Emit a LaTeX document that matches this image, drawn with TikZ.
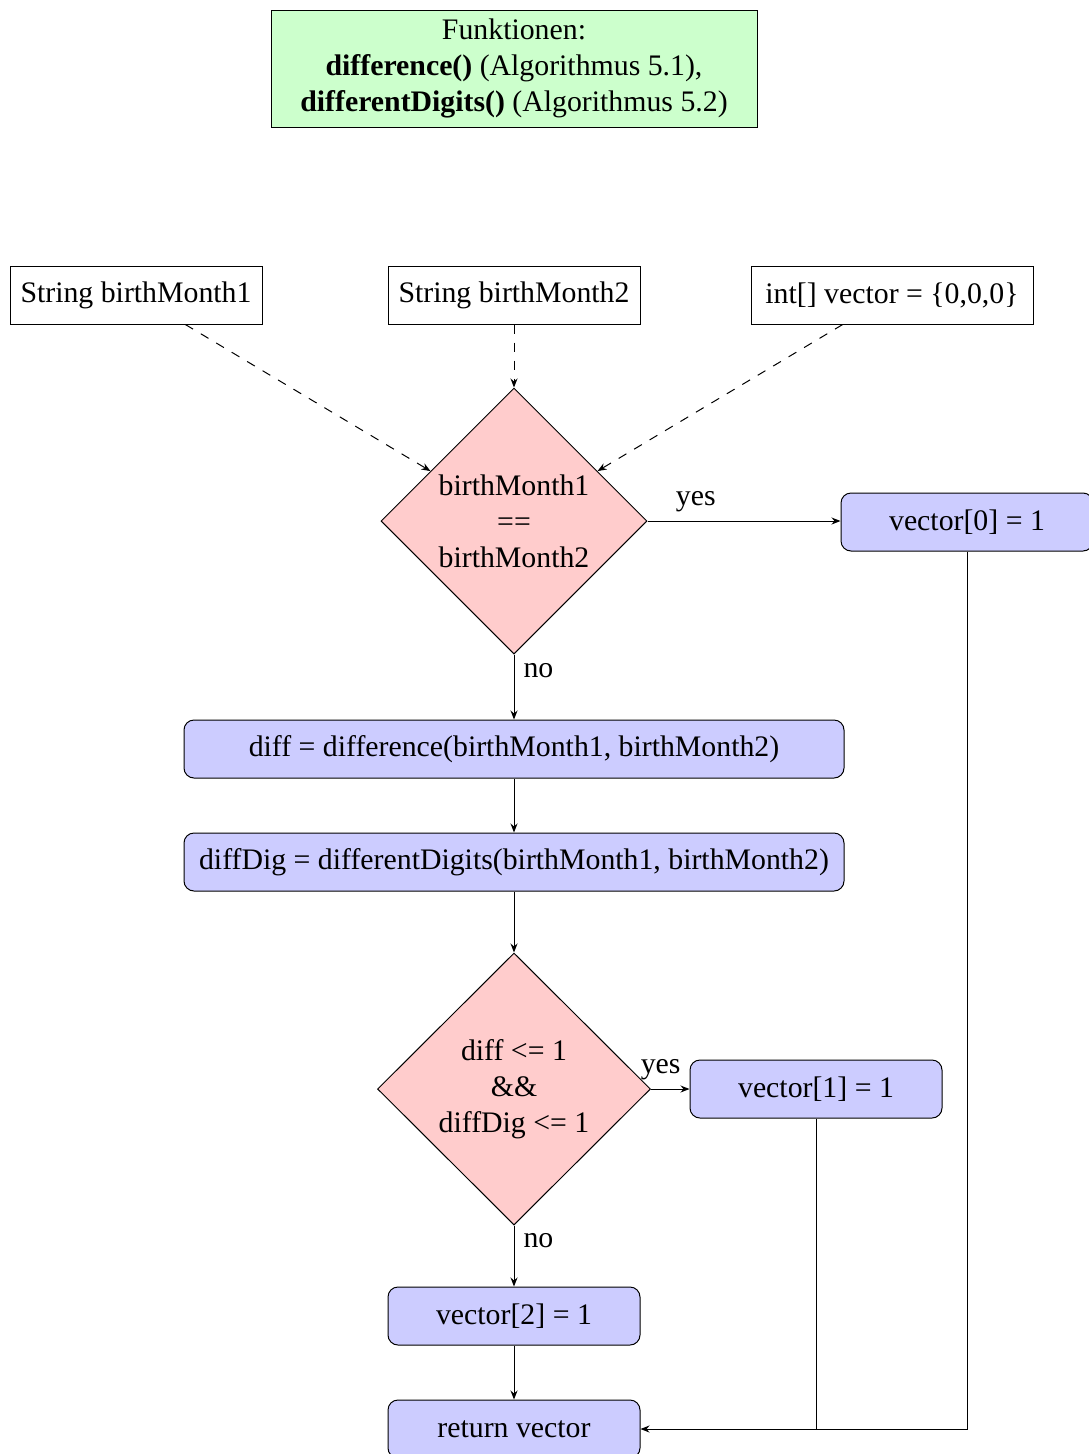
\documentclass[tikz,border=0pt]{standalone}
\usepackage{fontspec}
\setmainfont{Liberation Serif}
\usetikzlibrary{shapes.geometric,arrows.meta}
\begin{document}
\begin{tikzpicture}[x=1pt,y=-1pt,
  every node/.style={font=\fontsize{29.8}{35.8}\selectfont},
  base/.style={draw, line width=1pt, minimum height=58pt, inner sep=4pt},
  inbox/.style={base, minimum width=252pt},
  proc/.style={base, fill=blue!20, rounded corners=10pt, minimum width=252pt},
  dec/.style={draw, line width=1pt, diamond, fill=red!20, inner sep=0pt, align=center},
  arr/.style={line width=1pt, -{Stealth[length=9pt,width=7pt]}},
  darr/.style={arr, dash pattern=on 9pt off 9pt},
  lbl/.style={inner sep=9pt}
]
\useasboundingbox (0,0) rectangle (1089,1454);
\node[base, fill=green!20, minimum width=486pt, minimum height=117pt, align=center] (fn) at (514,68.5)
  {Funktionen:\\\textbf{difference()} (Algorithmus 5.1),\\\textbf{differentDigits()} (Algorithmus 5.2)};
\node[inbox] (s1) at (136,295) {String birthMonth1};
\node[inbox] (s2) at (514,295) {String birthMonth2};
\node[base, minimum width=282pt] (v) at (892,295) {int[] vector = \{0,0,0\}};
\node[dec, minimum width=266pt, minimum height=266pt] (d1) at (514,521) {birthMonth1\\==\\birthMonth2};
\node[proc] (v0) at (967,522) {vector[0] = 1};
\node[proc, minimum width=660pt] (diff) at (514,749) {diff = difference(birthMonth1, birthMonth2)};
\node[proc, minimum width=660pt] (dd) at (514,862) {diffDig = differentDigits(birthMonth1, birthMonth2)};
\node[dec, minimum width=273pt, minimum height=272pt] (d2) at (514,1089) {diff <= 1\\\&\&\\diffDig <= 1};
\node[proc] (v1) at (816,1089) {vector[1] = 1};
\node[proc] (v2) at (514,1316) {vector[2] = 1};
\node[proc] (ret) at (514,1429) {return vector};

\draw[darr] (s1) -- (d1);
\draw[darr] (s2) -- (d1);
\draw[darr] (v) -- (d1);
\draw[arr] (d1.east) -- node[lbl, above, pos=0.25] {yes} (d1.east -| v0.west);
\draw[arr] (d1) -- node[lbl, right, pos=0.25] {no} (diff);
\draw[arr] (diff) -- (dd);
\draw[arr] (dd) -- (d2);
\draw[arr] (d2) -- node[lbl, above, pos=0.25] {yes} (v1);
\draw[arr] (d2) -- node[lbl, right, pos=0.25] {no} (v2);
\draw[arr] (v2) -- (ret);
\draw[arr] (v1) |- (ret);
\draw[line width=1pt] (v0.south) |- (v1.south |- ret.east);
\end{tikzpicture}
\end{document}
